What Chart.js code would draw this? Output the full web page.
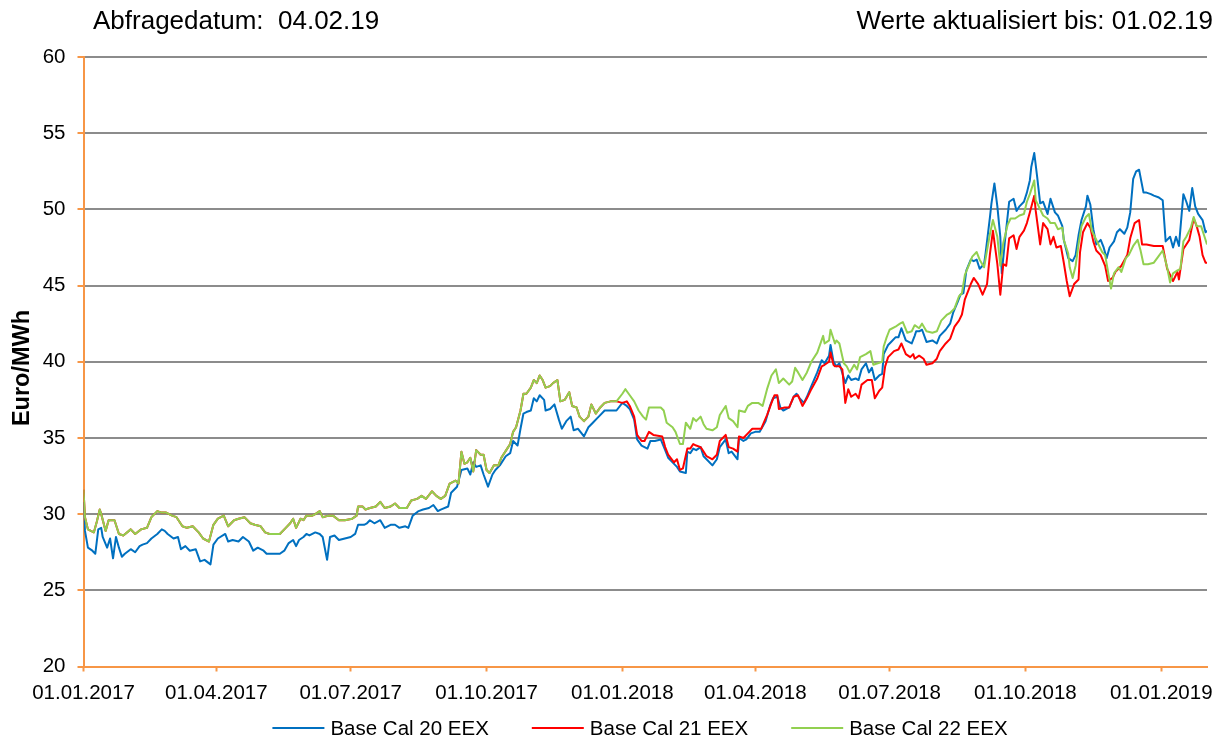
<!DOCTYPE html>
<html>
<head>
<meta charset="utf-8">
<script src="https://cdn.jsdelivr.net/npm/chart.js@4.4.1/dist/chart.umd.min.js"></script>
<style>
html,body{margin:0;padding:0;background:#fff;}
canvas{display:block;}
</style>
</head>
<body>
<canvas id="c" width="1226" height="740"></canvas>
<script>
const headerLeft = 'Abfragedatum:  04.02.19';
const headerRight = 'Werte aktualisiert bis: 01.02.19';
const yAxisTitle = 'Euro/MWh';
const seriesNames = ['Base Cal 20 EEX', 'Base Cal 21 EEX', 'Base Cal 22 EEX'];
const seriesColors = ['#0070C0', '#FF0000', '#92D050'];

// x axis: days since 01.01.2017
const xTickDays = [0, 90, 181, 273, 365, 455, 546, 638, 730];
const xTickLabels = ['01.01.2017', '01.04.2017', '01.07.2017', '01.10.2017', '01.01.2018', '01.04.2018', '01.07.2018', '01.10.2018', '01.01.2019'];
const xMaxDay = 761;
const yMin = 20, yMax = 60, yStep = 5;

const cal20Days = [
  0,1,3,6,8,10,12,13,16,18, 20,22,24,26,28,32,35,38,40,43, 46,50,53,55,57,61,64,66,69,72,
  76,79,82,86,88,91,96,98,101,105, 108,112,115,118,122,124,128,133,136,139, 142,144,146,149,151,153,157,160,162,165,
  167,170,173,177,181,184,186,190,192,194, 197,201,204,208,211,214,218,220,223,227, 230,234,237,240,242,247,249,253,256,260,
  262,264,266,269,271,274,277,279,282,286, 289,291,294,296,298,300,303,305,307,309, 312,313,316,319,322,324,327,330,332,335,
  339,342,345,348,350,353,357,361,365,368, 370,373,375,378,382,384,387,391,394,396, 400,402,404,408,409,411,413,415,418,420,
  422,426,429,431,435,437,439,443,444,447, 449,452,455,458,462,465,467,470,472,474, 478,481,483,485,488,490,493,497,500,502,
  505,506,508,510,512,516,518,520,523,525, 527,530,532,534,536,539,541,542,545,547, 550,552,554,557,559,561,563,564,566,568,
  571,575,578,580,584,587,589,592,594,596, 598,601,603,605,607,610,611,614,615,617, 619,621,622,624,627,630,632,634,637,639,
  641,642,644,646,648,650,653,655,658,660, 663,664,667,670,672,674,676,679,680,682, 684,686,689,691,693,695,698,700,702,705,
  707,709,711,713,715,718,720,723,725,728, 731,733,736,738,740,742,745,747,749,751, 753,755,758,760,761
];
const cal20Values = [
  30.8,28.9,27.8,27.6,27.4,29.0,29.1,28.5,27.8,28.4, 27.1,28.5,27.8,27.2,27.4,27.7,27.5,27.9,28.0,28.1, 28.4,28.7,29.0,28.9,28.7,28.4,28.5,27.7,27.9,27.6,
  27.7,26.9,27.0,26.7,28.0,28.4,28.7,28.2,28.3,28.2, 28.5,28.2,27.6,27.8,27.6,27.4,27.4,27.4,27.6,28.1, 28.3,27.9,28.3,28.5,28.7,28.6,28.8,28.7,28.5,27.0,
  28.5,28.6,28.3,28.4,28.5,28.7,29.3,29.3,29.4,29.6, 29.4,29.6,29.1,29.3,29.3,29.1,29.2,29.1,29.9,30.2, 30.3,30.4,30.6,30.2,30.3,30.5,31.4,31.8,32.9,33.0,
  32.6,33.4,33.1,33.2,32.6,31.8,32.6,32.9,33.2,33.8, 34.0,34.8,34.5,35.6,36.6,36.7,36.8,37.6,37.4,37.8, 37.5,36.8,36.9,37.2,36.2,35.6,36.1,36.4,35.5,35.6,
  35.1,35.7,36.0,36.3,36.5,36.8,36.8,36.8,37.3,37.1, 36.9,36.2,34.9,34.5,34.3,34.8,34.8,34.9,34.2,33.7, 33.3,33.1,32.8,32.7,34.1,34.0,34.3,34.2,34.4,33.8,
  33.6,33.2,33.6,34.4,34.9,34.0,34.1,33.6,35.0,34.8, 34.9,35.3,35.4,35.4,36.1,37.1,37.6,37.7,37.0,36.8, 37.0,37.7,37.9,37.6,37.3,37.7,38.4,39.3,40.1,39.9,
  40.4,41.1,40.0,39.7,39.9,38.6,39.1,38.8,38.9,38.8, 39.5,39.9,39.3,39.6,38.8,39.1,39.2,40.5,41.1,41.3, 41.6,41.6,42.2,41.4,41.3,41.2,41.7,42.0,42.0,42.1,
  41.3,41.4,41.2,41.7,42.1,42.5,43.2,43.9,44.4,44.5, 46.0,46.7,46.6,46.7,46.1,46.4,47.1,49.5,50.4,51.7, 50.2,48.2,45.8,47.8,50.5,50.7,49.9,50.2,50.5,51.1,
  51.9,52.8,53.7,52.1,50.4,50.5,49.7,50.7,49.8,49.6, 48.9,48.0,46.8,46.6,47.0,48.3,49.3,50.2,50.9,50.3, 48.7,47.7,48.0,47.5,46.8,47.5,47.9,48.5,48.7,48.4,
  48.8,49.8,52.0,52.5,52.6,51.1,51.1,51.0,50.9,50.8, 50.6,47.9,48.2,47.5,48.2,47.6,51.0,50.5,49.9,51.4, 50.2,49.7,49.3,48.5,48.6
];

// Cal 21 runs underneath Cal 22 (identical) until late December 2017
const cal21TracksCal22Before = 361;
const cal21Days = [
  361,365,368,370,373,375,378,380,383,386, 392,394,396,400,402,404,406,409,411,413, 415,418,420,422,426,429,431,435,437,440,
  443,444,447,450,453,456,459,463,466,468, 470,471,475,478,481,484,487,490,493,497, 500,502,505,506,508,509,512,514,516,518,
  520,523,525,527,531,534,536,539,541,543, 545,549,552,554,557,560,562,563,566,569, 571,575,578,580,584,587,590,593,595,597,
  601,603,606,609,612,614,616,619,621,623, 625,627,630,632,634,637,639,641,644,645, 648,650,653,655,657,659,662,664,666,668,
  671,674,675,677,680,682,684,686,689,692, 694,697,699,701,703,707,709,712,715,717, 720,725,731,734,736,738,741,742,745,747,
  749,752,754,756,758,760,761
];
const cal21Values = [
  37.4,37.3,37.4,37.1,36.4,35.2,34.8,34.8,35.4,35.2, 35.1,34.4,33.9,33.4,33.6,32.9,33.0,34.3,34.3,34.6, 34.5,34.4,34.1,33.8,33.6,33.9,34.8,35.2,34.4,34.3,
  34.1,35.1,35.0,35.3,35.6,35.6,35.6,36.5,37.3,37.8, 37.8,36.9,37.0,37.0,37.7,37.8,37.1,37.6,38.2,38.9, 39.7,39.8,40.0,40.6,39.8,39.7,39.7,39.5,37.3,38.2,
  37.7,37.9,37.6,38.5,38.8,38.8,37.6,38.1,38.3,39.7, 40.3,40.7,40.8,41.2,40.5,40.3,40.5,40.2,40.4,40.2, 39.8,39.9,40.2,40.7,41.2,41.5,42.3,42.7,43.1,44.1,
  45.1,45.5,45.1,44.4,45.1,47.1,48.6,46.4,44.4,46.4, 46.3,48.1,48.3,47.4,48.2,48.6,49.1,49.8,50.9,49.9, 47.7,49.1,48.7,47.7,48.2,47.5,47.6,46.5,45.3,44.3,
  45.1,45.4,47.2,48.5,49.1,48.8,47.9,47.3,47.0,46.3, 45.3,45.5,45.9,46.1,46.3,47.0,48.1,49.1,49.3,47.7, 47.7,47.6,47.6,46.1,45.7,45.3,45.9,45.4,47.4,47.7,
  48.0,49.4,48.9,48.2,47.0,46.5,46.5
];

const cal22Days = [
  0,1,3,7,9,11,12,15,17,19, 21,24,27,32,35,39,43,46,50,53, 56,60,63,67,70,74,78,81,85,88,
  91,95,98,102,105,109,113,116,120,123, 126,133,137,140,142,144,147,149,151,155, 157,160,162,166,169,173,177,182,185,186,
  189,191,194,198,201,204,208,211,214,219, 222,226,229,232,236,239,242,245,248,252, 254,256,258,260,262,264,266,269,271,273,
  275,278,281,283,287,289,291,293,296,298, 300,303,305,307,309,311,313,316,318,321, 323,326,329,331,334,336,339,342,344,347,
  350,353,357,361,365,367,370,373,376,379, 381,383,387,391,393,395,399,401,404,406, 408,411,413,415,418,420,422,426,429,431,
  435,437,440,443,444,448,450,453,457,460, 463,466,469,471,474,478,480,482,484,487, 490,493,497,501,502,505,506,509,510,512,
  515,517,519,522,524,526,530,533,535,538, 541,542,544,546,550,553,555,558,561,563, 566,568,571,575,578,581,585,587,590,593,
  595,597,600,602,605,607,610,612,614,616, 619,621,623,626,628,631,634,637,639,641, 644,645,648,650,653,655,658,660,663,664,
  667,668,670,672,674,676,679,681,683,685, 688,690,692,694,696,698,701,703,706,708, 711,714,716,718,721,725,728,731,734,736,
  738,741,743,745,747,750,752,754,757,759, 761
];
const cal22Values = [
  31.6,29.8,29.0,28.8,29.5,30.3,30.0,28.9,29.6,29.6, 29.6,28.7,28.6,29.0,28.7,29.0,29.1,29.8,30.2,30.1, 30.1,29.9,29.8,29.2,29.1,29.2,28.8,28.4,28.2,29.3,
  29.7,29.9,29.2,29.6,29.7,29.8,29.4,29.3,29.2,28.8, 28.7,28.7,29.1,29.4,29.7,29.1,29.7,29.6,29.9,29.9, 30.0,30.2,29.8,29.9,29.9,29.6,29.6,29.7,29.9,30.5,
  30.5,30.3,30.4,30.5,30.8,30.4,30.5,30.7,30.4,30.4, 30.9,31.0,31.2,31.0,31.5,31.2,31.0,31.2,32.0,32.2, 32.0,34.1,33.3,33.4,33.7,32.8,34.2,33.9,33.9,32.9,
  32.7,33.2,33.2,33.7,34.3,34.6,35.4,35.7,36.8,37.9, 37.9,38.3,38.8,38.6,39.1,38.8,38.3,38.4,38.6,38.8, 37.4,37.5,38.0,37.1,37.0,36.4,36.1,36.4,37.2,36.6,
  37.0,37.3,37.4,37.4,37.9,38.2,37.8,37.4,36.8,36.4, 36.2,37.0,37.0,37.0,36.8,36.0,35.7,35.4,34.6,34.6, 36.0,35.6,36.3,36.1,36.4,35.9,35.6,35.5,35.7,36.5,
  37.1,36.3,36.1,35.7,36.8,36.7,37.1,37.3,37.3,37.1, 38.2,39.1,39.5,38.6,38.9,38.5,38.7,39.6,39.3,38.8, 39.3,40.0,40.6,41.7,41.2,41.4,42.1,41.2,41.4,41.2,
  39.9,39.7,39.3,39.8,39.5,40.3,40.5,40.7,39.8,39.9, 40.0,41.0,41.6,42.1,42.3,42.5,42.6,41.9,42.0,42.4, 42.2,42.5,42.0,41.9,42.0,42.7,43.1,43.2,43.5,44.3,
  44.5,45.7,46.4,46.9,47.2,46.7,46.2,47.3,48.4,49.3, 48.2,46.3,47.8,49.0,49.4,49.4,49.6,49.7,50.5,51.0, 51.9,50.6,50.0,49.6,49.4,49.1,49.1,48.7,48.8,48.0,
  47.1,46.2,45.5,46.3,47.7,48.9,49.5,49.7,48.6,48.2, 47.6,47.2,47.0,45.9,44.8,45.8,46.2,45.9,46.8,47.0, 47.6,48.0,47.3,46.4,46.4,46.5,46.9,47.3,46.2,45.2,
  45.8,46.0,46.1,47.9,48.2,48.8,49.5,48.9,48.9,48.3, 47.7
];

const FONT = '"Liberation Sans", Arial, Helvetica, sans-serif';
Chart.defaults.font.family = FONT;
Chart.defaults.color = '#000';

function toPoints(days, values) {
  const n = Math.min(days.length, values.length);
  const pts = [];
  for (let i = 0; i < n; i++) pts.push({x: days[i], y: values[i]});
  return pts;
}
const cal20Points = toPoints(cal20Days, cal20Values);
const cal22Points = toPoints(cal22Days, cal22Values);
const cal21Points = cal22Points.filter(p => p.x < cal21TracksCal22Before).concat(toPoints(cal21Days, cal21Values));

const textPlugin = {
  id: 'headerAndTitle',
  afterDraw(chart) {
    const ctx = chart.ctx;
    ctx.save();
    ctx.font = '26px ' + FONT;
    ctx.fillStyle = '#000';
    ctx.textBaseline = 'alphabetic';
    ctx.textAlign = 'left';
    ctx.fillText(headerLeft, 93, 29);
    ctx.textAlign = 'right';
    ctx.fillText(headerRight, 1213, 29);
    // y axis title
    ctx.translate(22.5, 368);
    ctx.rotate(-Math.PI / 2);
    ctx.font = 'bold 23.5px ' + FONT;
    ctx.textAlign = 'center';
    ctx.textBaseline = 'middle';
    ctx.fillText(yAxisTitle, 0, 0);
    ctx.restore();
  }
};

const legendPlugin = {
  id: 'lineLegend',
  afterDraw(chart) {
    const ctx = chart.ctx;
    ctx.save();
    ctx.font = '20.5px ' + FONT;
    const lineW = 52, gapText = 6, gapItem = 43, cy = 728;
    const items = chart.data.datasets.map(ds => ({text: ds.label, color: ds.borderColor, w: ctx.measureText(ds.label).width}));
    const total = items.reduce((s, it) => s + lineW + gapText + it.w, 0) + gapItem * (items.length - 1);
    let x = 640 - total / 2;
    items.forEach(it => {
      ctx.strokeStyle = it.color;
      ctx.lineWidth = 2;
      ctx.beginPath();
      ctx.moveTo(x, cy);
      ctx.lineTo(x + lineW, cy);
      ctx.stroke();
      ctx.fillStyle = '#000';
      ctx.textAlign = 'left';
      ctx.textBaseline = 'middle';
      ctx.fillText(it.text, x + lineW + gapText, cy + 1.5);
      x += lineW + gapText + it.w + gapItem;
    });
    ctx.restore();
  }
};

new Chart(document.getElementById('c'), {
  type: 'line',
  data: {
    datasets: [
      {label: seriesNames[0], data: cal20Points, borderColor: seriesColors[0], backgroundColor: seriesColors[0], order: 2},
      {label: seriesNames[1], data: cal21Points, borderColor: seriesColors[1], backgroundColor: seriesColors[1], order: 1},
      {label: seriesNames[2], data: cal22Points, borderColor: seriesColors[2], backgroundColor: seriesColors[2], order: 0}
    ]
  },
  options: {
    responsive: false,
    animation: false,
    devicePixelRatio: 1,
    layout: {padding: {top: 57, left: 0, right: 19, bottom: 0}},
    elements: {
      point: {radius: 0, hoverRadius: 0},
      line: {borderWidth: 2, tension: 0, borderJoinStyle: 'round', fill: false}
    },
    plugins: {legend: {display: false}, tooltip: {enabled: false}},
    scales: {
      x: {
        type: 'linear',
        min: 0,
        max: xMaxDay,
        afterBuildTicks: s => { s.ticks = xTickDays.map(v => ({value: v})); },
        afterFit: s => { s.height = 73.5; },
        ticks: {
          autoSkip: false, maxRotation: 0, minRotation: 0, padding: 10,
          color: '#000', font: {size: 20.5},
          callback: (v, i) => xTickLabels[i]
        },
        grid: {drawOnChartArea: false, drawTicks: true, tickLength: 5, tickColor: '#F79646', tickWidth: 2},
        border: {color: '#F79646', width: 2}
      },
      y: {
        min: yMin,
        max: yMax,
        afterFit: s => { s.width = 83.5; },
        ticks: {stepSize: yStep, padding: 12, color: '#000', font: {size: 20.5}},
        grid: {color: '#8C8C8C', lineWidth: 2, tickColor: '#F79646', tickLength: 6, tickWidth: 2},
        border: {color: '#F79646', width: 2},
        title: {display: false, text: yAxisTitle}
      }
    }
  },
  plugins: [textPlugin, legendPlugin]
});
</script>
</body>
</html>
